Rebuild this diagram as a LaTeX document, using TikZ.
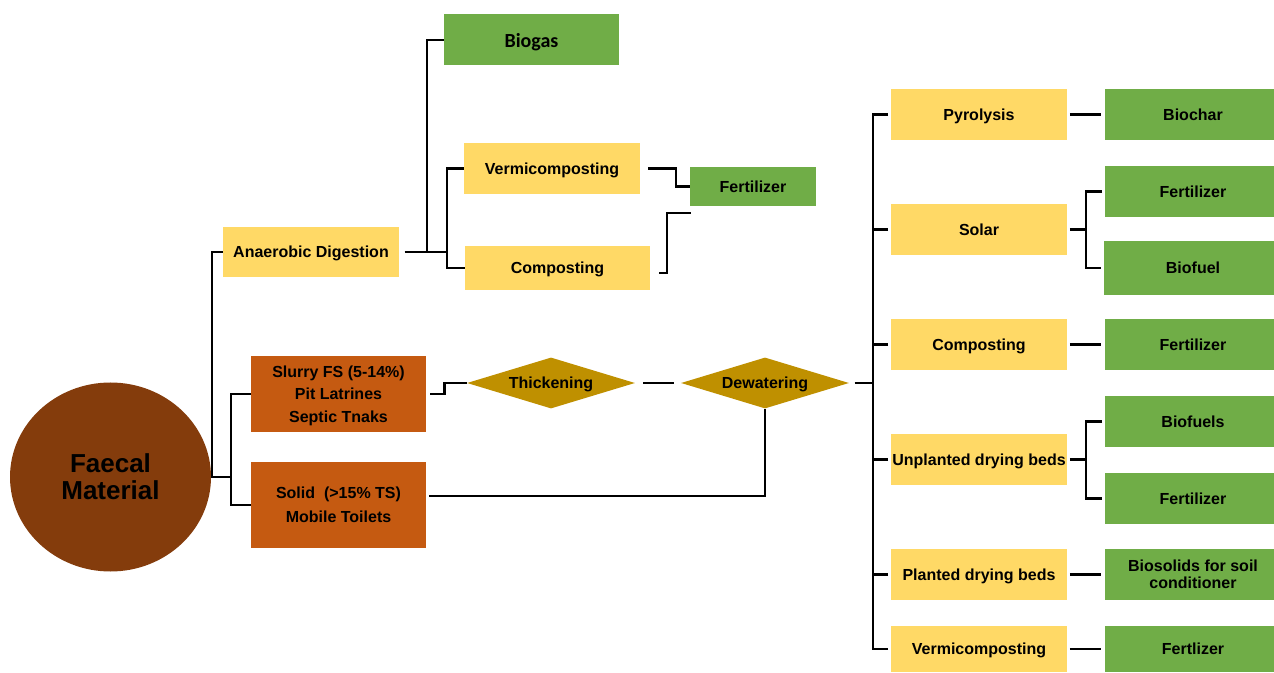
\documentclass[tikz,border=0pt]{standalone}
\usepackage{fontspec}
\setmainfont{Liberation Sans}
\newfontfamily\calib{Carlito}
\usetikzlibrary{shapes.geometric}
\definecolor{gbox}{HTML}{70AD47}
\definecolor{ybox}{HTML}{FFD966}
\definecolor{obox}{HTML}{C55A11}
\definecolor{ebox}{HTML}{843C0C}
\definecolor{dbox}{HTML}{BF9000}
\tikzset{
  sz/.style 2 args={minimum width=#1*0.75pt, minimum height=#2*0.75pt},
  base/.style={inner sep=0pt, align=center, text depth=0pt, font=\bfseries\fontsize{12}{14}\selectfont, text=black},
  green/.style={base, fill=gbox},
  yellow/.style={base, fill=ybox},
  orange/.style={base, fill=obox},
  dia/.style={base, diamond, fill=dbox, shape aspect=3.3},
  conn/.style={line width=2pt, black},
}
\begin{document}
\begin{tikzpicture}[x=0.75pt, y=-0.75pt]
\useasboundingbox (0,0) rectangle (1274,673);
% left
\node[ellipse, fill=ebox, sz={201}{189}, inner sep=0pt, align=center, text=black,
      font=\bfseries\fontsize{19.5}{20.5}\selectfont] (ell) at (110.5,477) {Faecal\\Material};
\node[yellow, sz={176}{50}] (ad) at (311,252) {Anaerobic Digestion};
\node[green, sz={175}{51}, font=\calib\bfseries\fontsize{15}{17}\selectfont] (bg) at (531.5,40) {Biogas};
\node[yellow, sz={176}{51}] (vc1) at (552,168.5) {Vermicomposting};
\node[green, sz={126}{39}] (fz1) at (753,186.5) {Fertilizer};
\node[yellow, sz={185}{44}] (cp1) at (557.5,268) {Composting};
\node[orange, sz={175}{76}, font=\bfseries\fontsize{12}{17}\selectfont] (sl) at (338.5,394) {Slurry FS (5-14\%)\\Pit Latrines\\Septic Tnaks};
\node[orange, sz={175}{86}, font=\bfseries\fontsize{12}{18}\selectfont] (so) at (338.5,505) {Solid~~(>15\% TS)\\Mobile Toilets};
\node[dia, sz={168}{51}] (th) at (551,383) {Thickening};
\node[dia, sz={168}{51}] (dw) at (765,383) {Dewatering};
% right yellow
\node[yellow, sz={176}{51}] (py) at (979,114.5) {Pyrolysis};
\node[yellow, sz={176}{51}] (sol) at (979,229.5) {Solar};
\node[yellow, sz={176}{51}] (cp2) at (979,344.5) {Composting};
\node[yellow, sz={176}{51}] (ub) at (979,459.5) {Unplanted drying beds};
\node[yellow, sz={176}{51}] (pb) at (979,574.5) {Planted drying beds};
\node[yellow, sz={176}{46}] (vc2) at (979,649) {Vermicomposting};
% right green
\node[green, sz={176}{51}] (bc) at (1193,114.5) {Biochar};
\node[green, sz={176}{51}] (fz2) at (1193,191.5) {Fertilizer};
\node[green, sz={178}{54}] (bf) at (1193,268) {Biofuel};
\node[green, sz={176}{51}] (fz3) at (1193,344.5) {Fertilizer};
\node[green, sz={176}{51}] (bfs) at (1193,421.5) {Biofuels};
\node[green, sz={176}{51}] (fz4) at (1193,498.5) {Fertilizer};
\node[green, sz={176}{51}, font=\bfseries\fontsize{12}{12.5}\selectfont] (bs) at (1193,574.5) {Biosolids for soil\\conditioner};
\node[green, sz={176}{46}] (fz5) at (1193,649) {Fertlizer};
% junction coordinates
\coordinate (t1) at (212,477);
\coordinate (t2) at (231,477);
\coordinate (t3) at (427,252);
\coordinate (t4) at (447,252);
\coordinate (k1) at (676,168.5);
\coordinate (k2) at (667,213);
\coordinate (k3) at (691,213);
\coordinate (rt) at (873,383);
\coordinate (sb) at (1086,229.5);
\coordinate (ubj) at (1086,459.5);
% connectors left
\draw[conn] (ad.west) -| (t1) -- (ell.east);
\draw[conn] (t1) -- (t2);
\draw[conn] (sl.west) -| (t2) |- (so.west);
\draw[conn] ([xshift=4pt]ad.east) -- (t4);
\draw[conn] (bg.west) -| (t3);
\draw[conn] (vc1.west) -| (t4) |- (cp1.west);
\draw[conn] ([xshift=6pt]vc1.east) -- (k1) |- (fz1.west);
\draw[conn] ([shift={(9,5)}]cp1.east) -| (k2) -- (k3);
\draw[conn] ([xshift=3pt]sl.east) -- ++(14,0) |- (th.west);
\draw[conn, shorten <=6pt, shorten >=5pt] (th.east) -- (dw.west);
\draw[conn] ([shift={(3,-9)}]so.east) -| (dw.south);
\draw[conn] ([xshift=4pt]dw.east) -- (rt);
% right trunk
\draw[conn] ([xshift=-2pt]py.west) -| (rt);
\draw[conn] ([xshift=-2pt]vc2.west) -| (rt);
\draw[conn] ([xshift=-2pt]sol.west) -- (sol.west -| rt);
\draw[conn] ([xshift=-2pt]cp2.west) -- (cp2.west -| rt);
\draw[conn] ([xshift=-2pt]ub.west) -- (ub.west -| rt);
\draw[conn] ([xshift=-2pt]pb.west) -- (pb.west -| rt);
% right outputs
\draw[conn, shorten <=2pt, shorten >=3pt] (py.east) -- (bc.west);
\draw[conn, shorten <=2pt, shorten >=3pt] (cp2.east) -- (fz3.west);
\draw[conn, shorten <=2pt, shorten >=3pt] (pb.east) -- (bs.west);
\draw[conn, shorten <=2pt, shorten >=3pt] (vc2.east) -- (fz5.west);
\draw[conn] ([xshift=2pt]sol.east) -- (sb);
\draw[conn] ([xshift=-2pt]fz2.west) -| (sb) |- ([xshift=-2pt]bf.west);
\draw[conn] ([xshift=2pt]ub.east) -- (ubj);
\draw[conn] ([xshift=-2pt]bfs.west) -| (ubj) |- ([xshift=-2pt]fz4.west);
\end{tikzpicture}
\end{document}
